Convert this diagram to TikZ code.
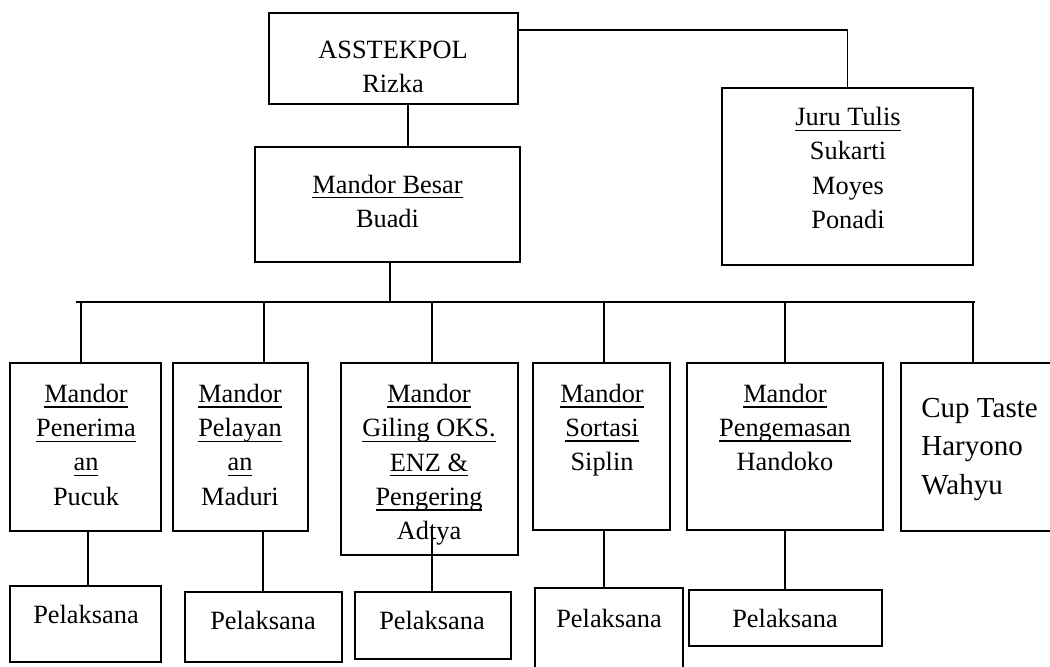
\documentclass[tikz,border=0pt]{standalone}
\usepackage{fontspec}
\setmainfont{Liberation Serif}
\newsavebox{\ulbox}
\newcommand{\ulword}[1]{\sbox{\ulbox}{#1}\rlap{\rule[-3pt]{\wd\ulbox}{0.8pt}}\usebox{\ulbox}}
\def\px{0.02cm}
\begin{document}
\begin{tikzpicture}[x=0.02cm, y=-0.02cm,
    posbox/.style={draw, line width=1pt, inner sep=0pt},
    size/.style 2 args={minimum width=#1*\px, minimum height=#2*\px},
    txt/.style={anchor=base, align=center, inner sep=0pt, font=\fontsize{15}{19.5}\selectfont},
    link/.style={line width=0.6pt}
]
    \useasboundingbox (0,0) rectangle (1050,666);

    % Boxes
    \node[posbox, size={249}{91}] (asst) at (393.5,58.5) {};
    \node[posbox, size={251}{177}] (juru) at (847.5,176.5) {};
    \node[posbox, size={265}{115}] (besar) at (387.5,204.5) {};

    \node[posbox, size={151}{168}] (m1) at (85.5,447) {};
    \node[posbox, size={135}{168}] (m2) at (240.5,447) {};
    \node[posbox, size={177}{192}] (m3) at (429.5,459) {};
    \node[posbox, size={137}{167}] (m4) at (601.5,446.5) {};
    \node[posbox, size={196}{167}] (m5) at (785,446.5) {};
    \node[posbox, size={164}{168}] (m6) at (983,447) {};

    \node[posbox, size={151}{76}] (p1) at (85.5,624) {};
    \node[posbox, size={157}{70}] (p2) at (263.5,627) {};
    \node[posbox, size={156}{67}] (p3) at (433,625.5) {};
    \node[posbox, size={148}{102}] (p4) at (609,639) {};
    \node[posbox, size={193}{56}] (p5) at (785.5,618) {};

    % Texts (base = baseline of the last line)
    \node[txt] (t-asst) at (393,92.4) {ASSTEKPOL\\Rizka};
    \node[txt] (t-besar) at (387.5,227.4) {\ulword{Mandor Besar}\\Buadi};
    \node[txt] (t-juru) at (848,228.5) {\ulword{Juru Tulis}\\Sukarti\\Moyes\\Ponadi};
    \node[txt] (t-m1) at (86,505.2) {\ulword{Mandor}\\\ulword{Penerima}\\\ulword{an}\\Pucuk};
    \node[txt] (t-m2) at (240,505.2) {\ulword{Mandor}\\\ulword{Pelayan}\\\ulword{an}\\Maduri};
    \node[txt] (t-m3) at (429,539.6) {\ulword{Mandor}\\\ulword{Giling OKS.}\\\ulword{ENZ \&}\\\ulword{Pengering}\\Adtya};
    \node[txt] (t-m4) at (602,470.8) {\ulword{Mandor}\\\ulword{Sortasi}\\Siplin};
    \node[txt] (t-m5) at (785,470.8) {\ulword{Mandor}\\\ulword{Pengemasan}\\Handoko};
    \node[txt, anchor=base west, align=left, font=\fontsize{16.5}{21.8}\selectfont] (t-m6) at (921,494) {Cup Taste\\Haryono\\Wahyu};

    \node[txt] (t-p1) at (86,623) {Pelaksana};
    \node[txt] (t-p2) at (263,629.5) {Pelaksana};
    \node[txt] (t-p3) at (432,629.5) {Pelaksana};
    \node[txt] (t-p4) at (609,627) {Pelaksana};
    \node[txt] (t-p5) at (785,627) {Pelaksana};

    % Connectors
    \draw[link] ([yshift=28.5*\px]asst.east) -| (juru.north);
    \draw[link] ([xshift=14.5*\px]asst.south) -- ([xshift=20.5*\px]besar.north);

    \coordinate (busw) at (76,302);
    \coordinate (buse) at (975,302);
    \draw[link] (busw) -- (buse);
    \draw[link] ([xshift=2.5*\px]besar.south) -- ([xshift=2.5*\px]besar.south |- busw);

    \foreach \m/\dx in {m1/-4.5, m2/23.5, m3/2.5, m4/2.5, m5/0, m6/-10}
        \draw[link] ([xshift=\dx*\px]\m.north) -- ([xshift=\dx*\px]\m.north |- busw);

    \foreach \m/\p/\dx in {m1/p1/2.5, m2/p2/22.5, m4/p4/2.5, m5/p5/0}
        \draw[link] ([xshift=\dx*\px]\m.south) -- ([xshift=\dx*\px]\m.south |- \p.north);
    \draw[link] ([xshift=2.5*\px, yshift=19*\px]m3.south) -- ([xshift=2.5*\px]m3.south |- p3.north);

\end{tikzpicture}
\end{document}
